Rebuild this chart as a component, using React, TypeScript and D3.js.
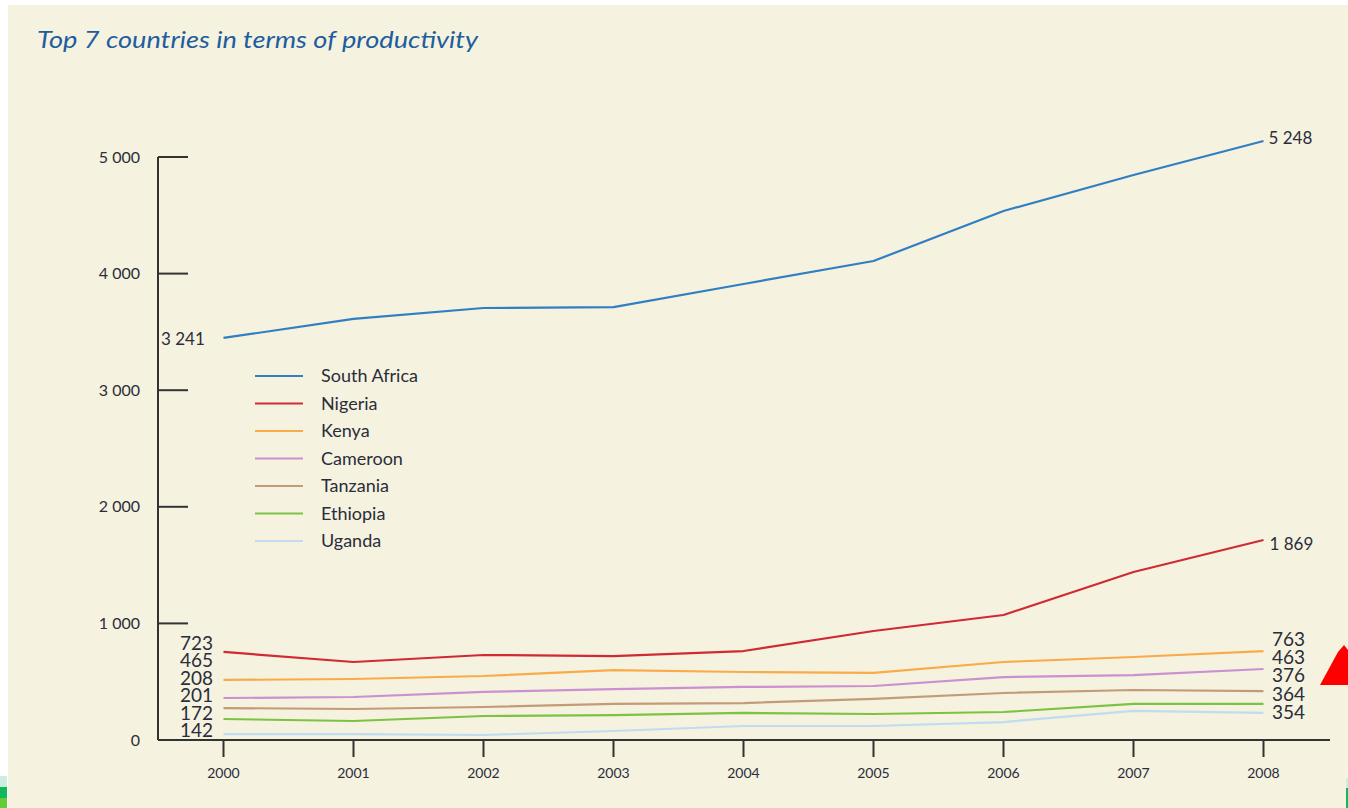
import React from "react";
import * as d3 from "d3";

const years = [2000, 2001, 2002, 2003, 2004, 2005, 2006, 2007, 2008];
const yTicks = [0, 1000, 2000, 3000, 4000, 5000];
const yTickLabels = ["0", "1 000", "2 000", "3 000", "4 000", "5 000"];

const countries = ["South Africa", "Nigeria", "Kenya", "Cameroon", "Tanzania", "Ethiopia", "Uganda"];
const colors = ["#2f7fc2", "#d02a32", "#f9ab4a", "#cc8fcf", "#c49b79", "#7cc243", "#bfdcf0"];

const southAfrica = [3448, 3611, 3705, 3713, 3911, 4108, 4537, 4846, 5137];
const nigeria = [755, 669, 729, 720, 763, 935, 1072, 1441, 1715];
const kenya = [515, 523, 549, 600, 583, 575, 669, 712, 763];
const cameroon = [360, 369, 412, 437, 455, 463, 540, 557, 609];
const tanzania = [274, 266, 283, 309, 317, 352, 403, 429, 420];
const ethiopia = [180, 163, 206, 214, 232, 223, 240, 309, 309];
const uganda = [51, 51, 43, 77, 120, 120, 154, 249, 232];

const seriesValues = [southAfrica, nigeria, kenya, cameroon, tanzania, ethiopia, uganda];

const startLabels = ["723", "465", "208", "201", "172", "142"];
const endLabels = ["763", "463", "376", "364", "354"];
const saStartLabel = "3 241";
const saEndLabel = "5 248";
const ngEndLabel = "1 869";

const title = "Top 7 countries in terms of productivity";

export default function App() {
  const W = 1348;
  const H = 808;
  const x = d3.scaleLinear().domain([2000, 2008]).range([223.5, 1263.5]);
  const y = d3.scaleLinear().domain([0, 5000]).range([740, 157]);
  const axisX = 158;
  const line = d3
    .line<number>()
    .x((_, i) => x(years[i]))
    .y((d) => y(d));

  const font = "Lato, 'Open Sans', sans-serif";
  const textColor = "#2b2d3a";

  return (
    <svg
      width={W}
      height={H}
      style={{ position: "absolute", left: 0, top: 0, display: "block" }}
    >
      <rect x={0} y={0} width={W} height={H} fill="#ffffff" />
      <rect x={8} y={5} width={W - 8} height={H - 5} fill="#f5f2e0" />
      {/* side decorations */}
      <rect x={0} y={776} width={7} height={11} fill="#cdeedf" />
      <rect x={0} y={787} width={7} height={11} fill="#10b85a" />
      <rect x={0} y={798} width={7} height={10} fill="#62cc35" />
      <rect x={1346} y={778} width={2} height={10} fill="#cdeedf" />
      <rect x={1346} y={788} width={2} height={20} fill="#10b85a" />
      <polygon points="1320,685 1348,685 1348,650 1344,645 1338,652" fill="#ff0000" />

      <text
        x={37}
        y={48}
        fontFamily={font}
        fontStyle="italic"
        fontSize={24}
        fill="#1f5e9e"
        textLength={441}
        lengthAdjust="spacingAndGlyphs"
      >
        {title}
      </text>

      {/* axes */}
      <line x1={axisX} x2={axisX} y1={y(5000)} y2={y(0)} stroke="#333" strokeWidth={2} />
      <line x1={axisX} x2={1330} y1={y(0)} y2={y(0)} stroke="#333" strokeWidth={2} />
      {yTicks.map((t, i) => (
        <g key={t}>
          {t > 0 && (
            <line x1={axisX} x2={axisX + 30} y1={y(t)} y2={y(t)} stroke="#333" strokeWidth={2} />
          )}
          <text
            x={140}
            y={y(t)}
            dy="0.35em"
            textAnchor="end"
            fontFamily={font}
            fontSize={16}
            fill={textColor}
          >
            {yTickLabels[i]}
          </text>
        </g>
      ))}
      {years.map((yr) => (
        <g key={yr}>
          <line x1={x(yr)} x2={x(yr)} y1={y(0)} y2={y(0) + 17} stroke="#333" strokeWidth={2} />
          <text
            x={x(yr)}
            y={778}
            textAnchor="middle"
            fontFamily={font}
            fontSize={14}
            fill={textColor}
          >
            {yr}
          </text>
        </g>
      ))}

      {/* lines */}
      {seriesValues
        .map((vals, i) => ({ vals, i }))
        .reverse()
        .map(({ vals, i }) => (
          <path
            key={countries[i]}
            d={line(vals) || ""}
            fill="none"
            stroke={colors[i]}
            strokeWidth={2.2}
            strokeLinejoin="round"
          />
        ))}

      {/* legend */}
      {countries.map((c, i) => {
        const ly = 376 + i * 27.5;
        return (
          <g key={c}>
            <line x1={255} x2={303} y1={ly} y2={ly} stroke={colors[i]} strokeWidth={2} />
            <text x={321} y={ly} dy="0.35em" fontFamily={font} fontSize={18} fill={textColor}>
              {c}
            </text>
          </g>
        );
      })}

      {/* data labels */}
      <text x={161} y={y(southAfrica[0]) + 1} dy="0.35em" fontFamily={font} fontSize={17} fill={textColor}>
        {saStartLabel}
      </text>
      <text x={x(2008) + 5} y={y(southAfrica[8]) - 3} dy="0.35em" fontFamily={font} fontSize={17} fill={textColor}>
        {saEndLabel}
      </text>
      <text x={x(2008) + 6} y={y(nigeria[8]) + 4} dy="0.35em" fontFamily={font} fontSize={17} fill={textColor}>
        {ngEndLabel}
      </text>
      {startLabels.map((l, i) => (
        <text
          key={"s" + i}
          x={213}
          y={643 + i * 17.5}
          dy="0.35em"
          textAnchor="end"
          fontFamily={font}
          fontSize={19}
          fill={textColor}
        >
          {l}
        </text>
      ))}
      {endLabels.map((l, i) => (
        <text
          key={"e" + i}
          x={1272}
          y={639 + i * 18.3}
          dy="0.35em"
          fontFamily={font}
          fontSize={19}
          fill={textColor}
        >
          {l}
        </text>
      ))}
    </svg>
  );
}
